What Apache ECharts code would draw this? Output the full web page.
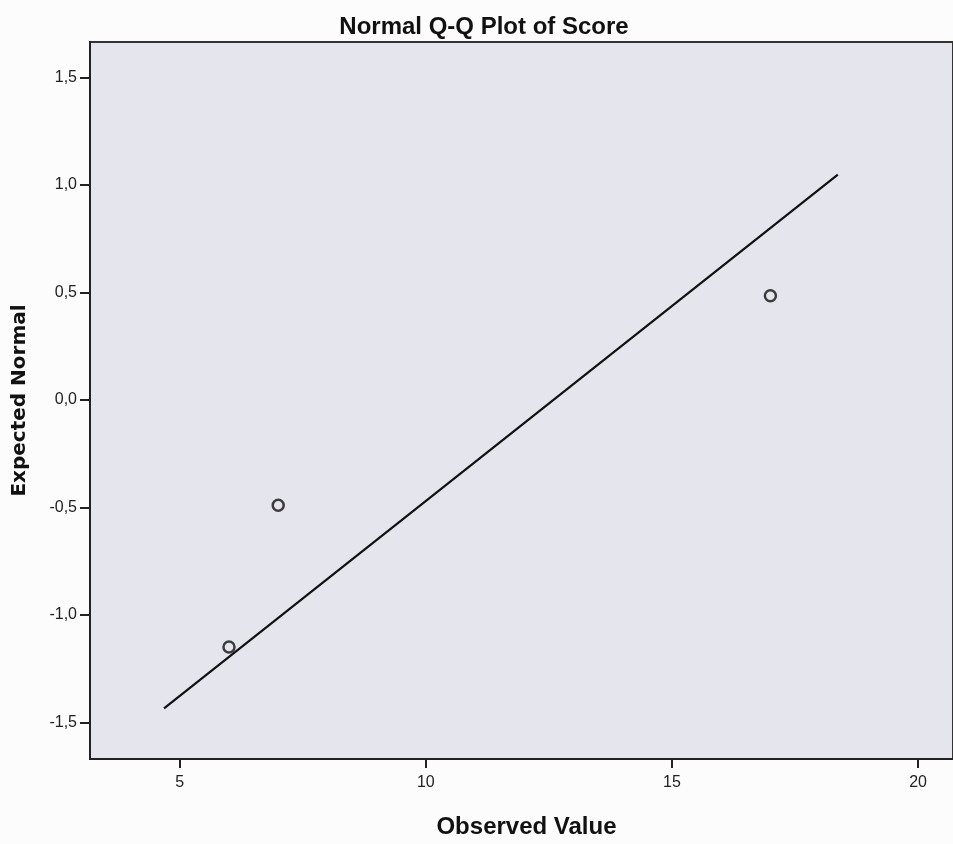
<!DOCTYPE html>
<html>
<head>
<meta charset="utf-8">
<script src="https://cdn.jsdelivr.net/npm/echarts@6/dist/echarts.min.js"></script>
<style>
  html, body { margin: 0; padding: 0; background: #fcfcfc; }
  #chart { width: 953px; height: 844px; }
</style>
</head>
<body>
<div id="chart"></div>
<script>
// observed values vs expected normal quantiles
const observed = [6, 7, 17];
const expected = [-1.148, -0.489, 0.484];
// reference line end points
const lineX = [4.68, 18.37];
const lineY = [-1.434, 1.047];
const xTicks = [5, 10, 15, 20];
const yTicks = [-1.5, -1.0, -0.5, 0.0, 0.5, 1.0, 1.5];

const sans = "'Liberation Sans', Arial, sans-serif";
const comma = v => v.toFixed(1).replace('.', ',');

const chart = echarts.init(document.getElementById('chart'));
chart.setOption({
  animation: false,
  backgroundColor: '#fcfcfc',
  title: {
    text: 'Normal Q-Q Plot of Score',
    left: 479,
    textAlign: 'center',
    top: 10,
    textStyle: { fontFamily: sans, fontSize: 24, fontWeight: 'bold', color: '#111' }
  },
  grid: {
    left: 90, top: 42, right: -2, bottom: 79,
    show: true,
    backgroundColor: '#e5e5ed',
    borderColor: '#333',
    borderWidth: 2
  },
  xAxis: {
    type: 'value',
    min: 3.176,
    max: 20.71,
    name: 'Observed Value',
    nameLocation: 'middle',
    nameGap: 56,
    nameTextStyle: { fontFamily: sans, fontSize: 24, fontWeight: 'bold', color: '#111', padding: [0, 0, 0, 10] },
    axisLine: { show: true, onZero: false, lineStyle: { color: '#222', width: 2 } },
    axisTick: { show: true, length: 9, lineStyle: { color: '#222', width: 2 }, customValues: xTicks },
    axisLabel: { customValues: xTicks, margin: 16, fontFamily: sans, fontSize: 16, color: '#222', formatter: v => String(v) },
    splitLine: { show: false }
  },
  yAxis: {
    type: 'value',
    min: -1.669,
    max: 1.664,
    name: 'Expected Normal',
    nameLocation: 'middle',
    nameRotate: 90,
    nameGap: 60,
    nameTextStyle: { fontFamily: "'DejaVu Sans', sans-serif", fontSize: 20, fontWeight: 'bold', color: '#111' },
    axisLine: { show: true, onZero: false, lineStyle: { color: '#222', width: 2 } },
    axisTick: { show: true, length: 10, lineStyle: { color: '#222', width: 2 }, customValues: yTicks },
    axisLabel: { customValues: yTicks, margin: 13, fontFamily: sans, fontSize: 16, color: '#222', formatter: comma },
    splitLine: { show: false }
  },
  series: [
    {
      type: 'line',
      data: lineX.map((x, i) => [x, lineY[i]]),
      symbol: 'none',
      lineStyle: { color: '#111', width: 2.2 },
      silent: true
    },
    {
      type: 'scatter',
      data: observed.map((x, i) => [x, expected[i]]),
      symbol: 'circle',
      symbolSize: 11,
      itemStyle: { color: 'rgba(0,0,0,0)', borderColor: '#111', borderWidth: 2.5 }
    }
  ]
});
</script>
</body>
</html>
